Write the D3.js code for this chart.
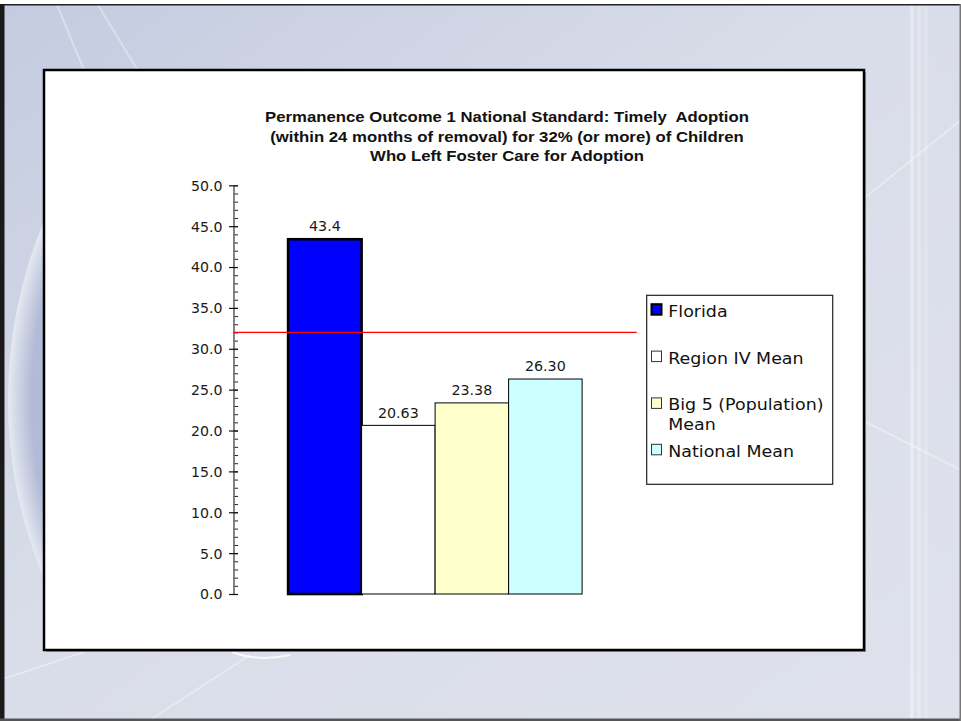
<!DOCTYPE html>
<html>
<head>
<meta charset="utf-8">
<script src="https://cdn.jsdelivr.net/npm/d3@7"></script>
<style>
  html, body { margin: 0; padding: 0; background: #ffffff; }
  svg { display: block; }
  text { white-space: pre; }
</style>
</head>
<body>
<svg id="chart" width="961" height="721"></svg>
<script>
// ---- data ----
const titleLines = [
  "Permanence Outcome 1 National Standard: Timely  Adoption",
  "(within 24 months of removal) for 32% (or more) of Children",
  "Who Left Foster Care for Adoption"
];
const categories = ["Florida", "Region IV Mean", "Big 5 (Population) Mean", "National Mean"];
const legendLines = [["Florida"], ["Region IV Mean"], ["Big 5 (Population)", "Mean"], ["National Mean"]];
const values = [43.4, 20.63, 23.38, 26.30];
const valueLabels = ["43.4", "20.63", "23.38", "26.30"];
const barColors = ["#0000ff", "#ffffff", "#ffffcc", "#ccffff"];
const nationalStandard = 32;
const yTickValues = [0, 5, 10, 15, 20, 25, 30, 35, 40, 45, 50];
const yMinorTicks = d3.range(0, 51, 1);

// ---- layout ----
const svg = d3.select("#chart");
const W = 961, H = 721;
const box = { x: 44, y: 70, w: 820, h: 580 };
const plot = { left: 233.5, right: 636.7, top: 185.3, bottom: 594 };
const FONT = "'DejaVu Sans', Verdana, sans-serif";
const TITLE_FONT = "'Liberation Sans', Arial, sans-serif";

// ---- slide background ----
const defs = svg.append("defs");
const bg = defs.append("linearGradient").attr("id", "bgGrad")
  .attr("x1", 0).attr("y1", 0).attr("x2", 1).attr("y2", 1);
bg.append("stop").attr("offset", "0%").attr("stop-color", "#c4cbe0");
bg.append("stop").attr("offset", "45%").attr("stop-color", "#d9dde9");
bg.append("stop").attr("offset", "100%").attr("stop-color", "#dfe2ec");

const orb = defs.append("radialGradient").attr("id", "orbGrad")
  .attr("cx", 0.5).attr("cy", 0.5).attr("r", 0.5);
orb.append("stop").attr("offset", "80%").attr("stop-color", "#a7b0ce");
orb.append("stop").attr("offset", "95%").attr("stop-color", "#b3bbd6");
orb.append("stop").attr("offset", "100%").attr("stop-color", "#e6e9f1");

defs.append("clipPath").attr("id", "leftClip")
  .append("rect").attr("x", 0).attr("y", 0).attr("width", 48).attr("height", H);

const glow = defs.append("linearGradient").attr("id", "streak")
  .attr("x1", 0).attr("y1", 0).attr("x2", 1).attr("y2", 0);
glow.append("stop").attr("offset", "0%").attr("stop-color", "#ffffff").attr("stop-opacity", 0);
glow.append("stop").attr("offset", "50%").attr("stop-color", "#ffffff").attr("stop-opacity", 0.75);
glow.append("stop").attr("offset", "100%").attr("stop-color", "#ffffff").attr("stop-opacity", 0);

const bgG = svg.append("g");
bgG.append("rect").attr("x", 0).attr("y", 0).attr("width", W).attr("height", H).attr("fill", "url(#bgGrad)");

// darker orb on the left edge
bgG.append("circle").attr("cx", 470).attr("cy", 400).attr("r", 462)
  .attr("fill", "url(#orbGrad)").attr("clip-path", "url(#leftClip)");

// light streaks
const streaks = [
  [[55, 0], [150, 230]], [[95, 0], [180, 140]], [[150, 720], [250, 655]],
  [[862, 200], [961, 120]], [[862, 420], [961, 470]], [[0, 680], [120, 640]]
];
streaks.forEach(s => {
  bgG.append("line").attr("x1", s[0][0]).attr("y1", s[0][1]).attr("x2", s[1][0]).attr("y2", s[1][1])
    .attr("stroke", "#ffffff").attr("stroke-opacity", 0.35).attr("stroke-width", 2);
});
[912, 919, 926].forEach((x, i) => {
  bgG.append("rect").attr("x", x - 3).attr("y", 0).attr("width", 6).attr("height", H)
    .attr("fill", "url(#streak)").attr("opacity", 0.6 - i * 0.15);
});
// glint under the chart box
bgG.append("path").attr("d", "M232,652 Q258,662 290,655")
  .attr("fill", "none").attr("stroke", "#ffffff").attr("stroke-opacity", 0.8).attr("stroke-width", 2);

// slide frame
bgG.append("rect").attr("x", 0).attr("y", 0).attr("width", W).attr("height", 4).attr("fill", "#ffffff");
bgG.append("rect").attr("x", 0).attr("y", 4).attr("width", W).attr("height", 1.5).attr("fill", "#222");
bgG.append("rect").attr("x", 0).attr("y", 4).attr("width", 4.5).attr("height", H - 4).attr("fill", "#1a1a1a");
bgG.append("rect").attr("x", 0).attr("y", H - 2.5).attr("width", W).attr("height", 2.5).attr("fill", "#555");
bgG.append("rect").attr("x", W - 1.5).attr("y", 4).attr("width", 1.5).attr("height", H - 4).attr("fill", "#777");

// ---- chart box ----
svg.append("rect").attr("x", box.x + 2).attr("y", box.y + 2).attr("width", box.w).attr("height", box.h)
  .attr("fill", "#7d7f88").attr("opacity", 0.7);
svg.append("rect").attr("x", box.x).attr("y", box.y).attr("width", box.w).attr("height", box.h)
  .attr("fill", "#ffffff").attr("stroke", "#000").attr("stroke-width", 2.5);

// helper: text with a horizontal stretch
function sText(parent, x, y, str, opts) {
  return parent.append("text")
    .attr("transform", `translate(${x},${y}) scale(${opts.sx || 1},1)`)
    .attr("text-anchor", opts.anchor || "start")
    .attr("font-family", opts.family || FONT)
    .attr("font-size", opts.size)
    .attr("font-weight", opts.weight || "normal")
    .attr("fill", opts.fill || "#111")
    .text(str);
}

// ---- title ----
const titleG = svg.append("g");
titleLines.forEach((t, i) => {
  sText(titleG, 507, 122.3 + i * 19.4, t, { anchor: "middle", family: TITLE_FONT, size: 14.9, weight: "bold", sx: 1.125, fill: "#111" });
});

// ---- scales ----
const y = d3.scaleLinear().domain([0, 50]).range([plot.bottom, plot.top]);
const gap = 54.6;
const x = d3.scaleBand().domain(categories).range([plot.left + gap, plot.right - gap]).padding(0);

// ---- y axis ----
const axisG = svg.append("g").attr("transform", `translate(${plot.left},0)`);
// minor ticks on the inner side
axisG.append("g").call(d3.axisRight(y).tickValues(yMinorTicks).tickSize(4.5).tickFormat(""))
  .call(g => g.select(".domain").remove())
  .call(g => g.selectAll(".tick line").attr("stroke", "#222").attr("stroke-width", 1));
// major ticks crossing the axis, with labels
const major = axisG.append("g").call(
  d3.axisLeft(y).tickValues(yTickValues).tickSizeInner(4.5).tickSizeOuter(0).tickFormat(d3.format(".1f")).tickPadding(6)
);
major.select(".domain").attr("stroke", "#666").attr("stroke-width", 1.6);
major.selectAll(".tick line").attr("stroke", "#111").attr("stroke-width", 1.2)
  .attr("x1", 4.5);
major.selectAll(".tick text").each(function() {
  const t = d3.select(this);
  t.attr("x", null).attr("dy", "0.36em")
    .attr("transform", `translate(-11,0) scale(1.04,1)`)
    .attr("font-family", FONT).attr("font-size", 13.6).attr("fill", "#1a1a1a");
});

// ---- bars ----
const barsG = svg.append("g");
barsG.selectAll("rect").data(categories).join("rect")
  .attr("x", d => x(d))
  .attr("y", (d, i) => y(values[i]))
  .attr("width", x.bandwidth())
  .attr("height", (d, i) => y(0) - y(values[i]))
  .attr("fill", (d, i) => barColors[i])
  .attr("stroke", "#000")
  .attr("stroke-width", (d, i) => i === 0 ? 2.6 : 1);

// value labels
categories.forEach((c, i) => {
  sText(barsG, x(c) + x.bandwidth() / 2, y(values[i]) - 7.8, valueLabels[i], { anchor: "middle", size: 14, sx: 1.02, fill: "#1a1a1a" });
});

// ---- national standard line ----
svg.append("line")
  .attr("x1", plot.left).attr("x2", plot.right)
  .attr("y1", y(nationalStandard)).attr("y2", y(nationalStandard))
  .attr("stroke", "#ff0000").attr("stroke-width", 1.2);

// ---- legend ----
const leg = { x: 646.7, y: 295.3, w: 186, h: 189 };
const legG = svg.append("g");
legG.append("rect").attr("x", leg.x).attr("y", leg.y).attr("width", leg.w).attr("height", leg.h)
  .attr("fill", "#ffffff").attr("stroke", "#222").attr("stroke-width", 1.2);
const legBaselines = [316.7, 363.6, 410.4, 456.8];
categories.forEach((c, i) => {
  const b = legBaselines[i];
  legG.append("rect")
    .attr("x", 651.5).attr("y", b - 12.5).attr("width", 10).attr("height", 10.5)
    .attr("fill", barColors[i]).attr("stroke", i === 0 ? "#000" : "#333")
    .attr("stroke-width", i === 0 ? 2 : 1);
  legendLines[i].forEach((ln, j) => {
    sText(legG, 668.3, b + j * 19.4, ln, { size: 16.6, sx: 1.05, fill: "#111" });
  });
});
</script>
</body>
</html>
